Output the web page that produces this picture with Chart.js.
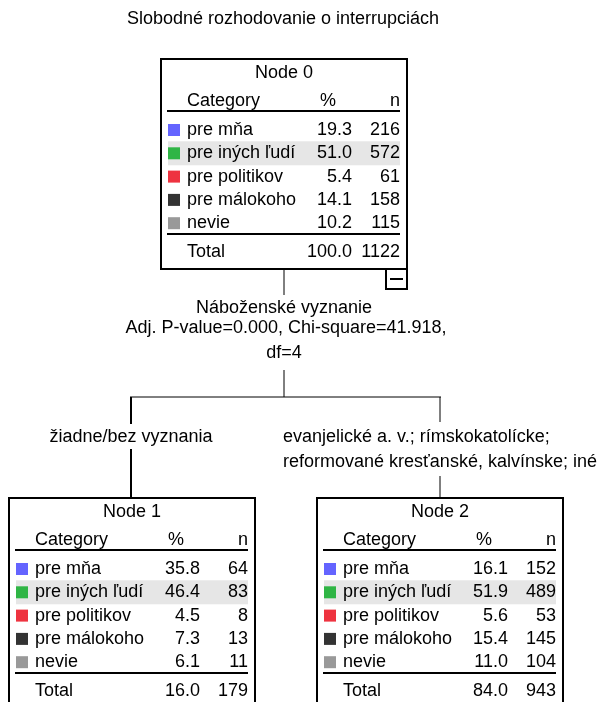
<!DOCTYPE html>
<html>
<head>
<meta charset="utf-8">
<script src="https://cdn.jsdelivr.net/npm/chart.js@4/dist/chart.umd.min.js"></script>
<style>
  body { margin: 0; background: #fff; }
  canvas { display: block; }
</style>
</head>
<body>
<canvas id="tree" width="602" height="702"></canvas>
<script>
// Classification tree - Slobodné rozhodovanie o interrupciách

const chartTitle = 'Slobodné rozhodovanie o interrupciách';
const categories = ['pre mňa', 'pre iných ľudí', 'pre politikov', 'pre málokoho', 'nevie'];
const categoryColors = ['#6464ff', '#2fb545', '#ee3340', '#333333', '#999999'];

const node0Pct = [19.3, 51.0, 5.4, 14.1, 10.2];
const node0N = [216, 572, 61, 158, 115];
const node0Total = [100.0, 1122];

const node1Pct = [35.8, 46.4, 4.5, 7.3, 6.1];
const node1N = [64, 83, 8, 13, 11];
const node1Total = [16.0, 179];

const node2Pct = [16.1, 51.9, 5.6, 15.4, 11.0];
const node2N = [152, 489, 53, 145, 104];
const node2Total = [84.0, 943];

const splitText = ['Náboženské vyznanie', 'Adj. P-value=0.000, Chi-square=41.918,', 'df=4'];
const leftBranch = ['žiadne/bez vyznania'];
const rightBranch = ['evanjelické a. v.; rímskokatolícke;', 'reformované kresťanské, kalvínske; iné'];

const FONT = '18px "Liberation Sans", Arial, sans-serif';

// layout of the tree (canvas units)
const nodes = [
    { name: 'Node 0', left: 161, top: 59, pct: node0Pct, n: node0N, total: node0Total, minus: true },
    { name: 'Node 1', left: 9, top: 498, pct: node1Pct, n: node1N, total: node1Total },
    { name: 'Node 2', left: 317, top: 498, pct: node2Pct, n: node2N, total: node2Total }
];

function modeIndex(arr) {
    let best = 0;
    arr.forEach((v, i) => { if (v > arr[best]) best = i; });
    return best;
}

const treePlugin = {
    id: 'treePlugin',
    afterDraw(chart) {
        const ctx = chart.ctx;
        const sx = chart.scales.x, sy = chart.scales.y;
        const X = v => sx.getPixelForValue(v);
        const Y = v => sy.getPixelForValue(v);

        ctx.save();
        ctx.font = FONT;
        ctx.fillStyle = '#000';
        ctx.textBaseline = 'middle';

        // title
        ctx.textAlign = 'center';
        ctx.fillText(chartTitle, X(283), Y(19));

        function line(x1, y1, x2, y2, w) {
            ctx.beginPath();
            ctx.lineWidth = w || 1;
            ctx.strokeStyle = '#000';
            ctx.moveTo(X(x1), Y(y1));
            ctx.lineTo(X(x2), Y(y2));
            ctx.stroke();
        }

        // nodes
        nodes.forEach(nd => {
            const L = nd.left, T = nd.top, W = 246, H = 210;
            const hi = modeIndex(nd.pct);
            const rowY = i => T + 71 + i * 23.3;

            // highlighted modal row
            ctx.fillStyle = '#e6e6e6';
            ctx.fillRect(X(L + 7), Y(rowY(hi) - 12), X(L + 239) - X(L + 7), Y(rowY(hi) + 12) - Y(rowY(hi) - 12));

            ctx.fillStyle = '#000';
            ctx.textAlign = 'center';
            ctx.fillText(nd.name, X(L + W / 2), Y(T + 14));

            ctx.textAlign = 'left';
            ctx.fillText('Category', X(L + 26), Y(T + 42));
            ctx.textAlign = 'right';
            ctx.fillText('%', X(L + 175), Y(T + 42));
            ctx.fillText('n', X(L + 239), Y(T + 42));
            line(L + 6, T + 52, L + 239, T + 52, 2);

            categories.forEach((c, i) => {
                const y = rowY(i);
                ctx.fillStyle = categoryColors[i];
                ctx.fillRect(X(L + 7), Y(y - 6), 12, 12);
                ctx.fillStyle = '#000';
                ctx.textAlign = 'left';
                ctx.fillText(c, X(L + 26), Y(y));
                ctx.textAlign = 'right';
                ctx.fillText(nd.pct[i].toFixed(1), X(L + 191), Y(y));
                ctx.fillText(String(nd.n[i]), X(L + 239), Y(y));
            });
            line(L + 6, T + 175, L + 239, T + 175, 2);
            ctx.textAlign = 'left';
            ctx.fillText('Total', X(L + 26), Y(T + 193));
            ctx.textAlign = 'right';
            ctx.fillText(nd.total[0].toFixed(1), X(L + 191), Y(T + 193));
            ctx.fillText(String(nd.total[1]), X(L + 239), Y(T + 193));

            ctx.lineWidth = 2;
            ctx.strokeStyle = '#000';
            ctx.strokeRect(X(L), Y(T), W, H);

            if (nd.minus) {
                ctx.strokeRect(X(L + W - 21), Y(T + H), 21, 20);
                line(L + W - 17, T + H + 10, L + W - 4, T + H + 10, 2);
            }
        });

        // connector from node 0 and split info
        line(284, 269, 284, 295, 1);
        ctx.fillStyle = '#000';
        ctx.textAlign = 'center';
        ctx.fillText(splitText[0], X(284), Y(308));
        ctx.fillText(splitText[1], X(286), Y(328));
        ctx.fillText(splitText[2], X(284), Y(353));
        line(284, 370, 284, 397, 1);
        line(130, 397, 441, 397, 1);

        // left branch
        line(131, 397, 131, 424, 2);
        ctx.fillText(leftBranch[0], X(131), Y(437));
        line(131, 449, 131, 498, 2);

        // right branch
        line(440, 397, 440, 422, 1);
        const wMax = Math.max(...rightBranch.map(t => ctx.measureText(t).width));
        ctx.textAlign = 'left';
        rightBranch.forEach((t, i) => ctx.fillText(t, X(440) - wMax / 2, Y(437 + i * 25)));
        line(440, 476, 440, 498, 1);

        ctx.restore();
    }
};

new Chart(document.getElementById('tree'), {
    type: 'scatter',
    data: { datasets: [] },
    options: {
        responsive: false,
        animation: false,
        layout: { padding: 0 },
        plugins: { legend: { display: false }, tooltip: { enabled: false } },
        scales: {
            x: { type: 'linear', min: 0, max: 602, display: false },
            y: { type: 'linear', min: 0, max: 702, reverse: true, display: false }
        }
    },
    plugins: [treePlugin]
});
</script>
</body>
</html>
